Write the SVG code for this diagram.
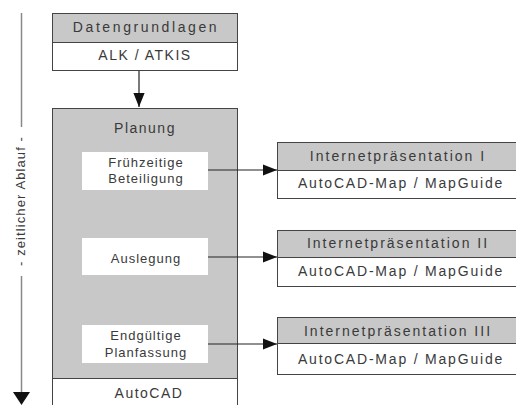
<svg xmlns="http://www.w3.org/2000/svg" width="516" height="405" viewBox="0 0 516 405">
<defs>
<style>
.t{font-family:"Liberation Sans",Arial,sans-serif;font-size:14px;letter-spacing:1.5px;fill:#3a3a3a;text-anchor:middle}
.s{font-size:13px;letter-spacing:1px}
.hdr{fill:#c8c8c8;stroke:#444;stroke-width:1}
.wb{fill:#fff;stroke:#444;stroke-width:1}
.in{fill:#fff;stroke:none}
.c{stroke:#222;stroke-width:1.2;fill:none}
</style>
<marker id="ah2" viewBox="0 0 10 10" refX="10" refY="5" markerWidth="14" markerHeight="14" markerUnits="userSpaceOnUse" orient="auto">
<path d="M0,1 L10,5 L0,9 Z" fill="#111"/>
</marker>
</defs>
<rect width="516" height="405" fill="#fff"/>

<g id="timeline">
<line x1="21.5" y1="13" x2="21.5" y2="127" stroke="#888" stroke-width="1.5"/>
<line x1="21.5" y1="276" x2="21.5" y2="393" stroke="#888" stroke-width="1.5"/>
<path d="M13,392 L30,392 L21.5,405 Z" fill="#111"/>
<text class="t" style="font-size:13px;letter-spacing:1.1px" transform="translate(25,201) rotate(-90)">- zeitlicher Ablauf -</text>
</g>

<g id="datengrundlagen">
<rect class="wb" x="52.5" y="13.5" width="185" height="57"/>
<rect class="hdr" x="52.5" y="13.5" width="185" height="29"/>
<text class="t" style="letter-spacing:2.6px" x="146" y="32">Datengrundlagen</text>
<text class="t" x="145" y="60">ALK / ATKIS</text>
</g>

<g id="planung">
<rect class="wb" x="52.5" y="108.5" width="185" height="300"/>
<rect class="hdr" x="52.5" y="108.5" width="185" height="270"/>
<text class="t" x="145" y="133">Planung</text>
<text class="t" x="149" y="398">AutoCAD</text>
</g>

<g id="fruehzeitige">
<rect class="in" x="82" y="152" width="126" height="38"/>
<text class="t s" x="146" y="167">Frühzeitige</text>
<text class="t s" x="146" y="183">Beteiligung</text>
</g>

<g id="auslegung">
<rect class="in" x="82" y="238" width="126" height="37"/>
<text class="t s" x="146" y="263">Auslegung</text>
</g>

<g id="endgueltige">
<rect class="in" x="82" y="325" width="126" height="38"/>
<text class="t s" x="146" y="340">Endgültige</text>
<text class="t s" x="146" y="357">Planfassung</text>
</g>

<g id="internet1">
<rect class="wb" x="277.5" y="142.5" width="239" height="56"/>
<rect class="hdr" x="277.5" y="142.5" width="239" height="28"/>
<text class="t" style="letter-spacing:2px" x="398" y="161">Internetpräsentation I</text>
<text class="t" style="letter-spacing:1.8px" x="401" y="188">AutoCAD-Map / MapGuide</text>
</g>

<g id="internet2">
<rect class="wb" x="277.5" y="230.5" width="239" height="56"/>
<rect class="hdr" x="277.5" y="230.5" width="239" height="27"/>
<text class="t" style="letter-spacing:2px" x="398" y="248">Internetpräsentation II</text>
<text class="t" style="letter-spacing:1.8px" x="401" y="276">AutoCAD-Map / MapGuide</text>
</g>

<g id="internet3">
<rect class="wb" x="277.5" y="317.5" width="239" height="57"/>
<rect class="hdr" x="277.5" y="317.5" width="239" height="26"/>
<text class="t" style="letter-spacing:2px" x="398" y="336">Internetpräsentation III</text>
<text class="t" style="letter-spacing:1.8px" x="401" y="364">AutoCAD-Map / MapGuide</text>
</g>

<g id="connectors">
<line class="c" x1="139" y1="71" x2="139" y2="107" marker-end="url(#ah2)"/>
<line class="c" x1="208" y1="170" x2="277" y2="170" marker-end="url(#ah2)"/>
<line class="c" x1="208" y1="257" x2="277" y2="257" marker-end="url(#ah2)"/>
<line class="c" x1="208" y1="344" x2="277" y2="344" marker-end="url(#ah2)"/>
</g>
</svg>
